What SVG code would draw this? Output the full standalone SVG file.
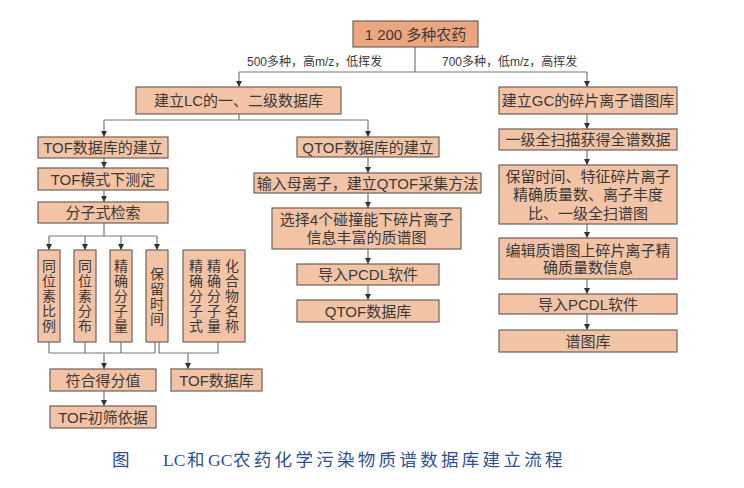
<svg xmlns="http://www.w3.org/2000/svg" width="744" height="488" viewBox="0 0 744 488">
<defs>
<marker id="ah" markerUnits="userSpaceOnUse" markerWidth="7" markerHeight="7" refX="6" refY="3.5" orient="auto">
<path d="M0,0.5 L6,3.5 L0,6.5 z" fill="#333"/>
</marker>
<style>
.b{fill:#f2c3a5;stroke:#6e625a;stroke-width:1.2}
.bt{fill:#eba67f;stroke:#6e625a;stroke-width:1.2}
.t{font-family:"Liberation Sans","Noto Sans CJK SC",sans-serif;font-size:15px;fill:#3a3a3a;text-anchor:middle;dominant-baseline:central}
.v{font-family:"Noto Sans CJK SC",sans-serif;font-size:14px;fill:#3a3a3a;text-anchor:middle;writing-mode:vertical-rl;letter-spacing:1px}
.l{font-family:"Liberation Sans","Noto Sans CJK SC",sans-serif;font-size:12px;fill:#3a3a3a}
.c{fill:none;stroke:#777;stroke-width:1.2}
.a{fill:none;stroke:#777;stroke-width:1.2;marker-end:url(#ah)}
.cap{font-family:"Liberation Serif","Noto Sans CJK SC",serif;font-size:17.5px;fill:#2f5193}
</style>
</defs>
<rect width="744" height="488" fill="#fff"/>

<g id="connectors">
<path class="c" d="M415,47 V72 M239,72 H587"/>
<path class="a" d="M239,72 V87"/>
<path class="a" d="M587,72 V87"/>
<path class="c" d="M239,114 V120 M104,120 H368"/>
<path class="a" d="M104,120 V137"/>
<path class="a" d="M368,120 V137"/>
<path class="a" d="M104,158 V168"/>
<path class="a" d="M104,190 V202"/>
<path class="c" d="M104,223 V236 M49,236 H157"/>
<path class="a" d="M49,236 V250"/>
<path class="a" d="M85,236 V250"/>
<path class="a" d="M121,236 V250"/>
<path class="a" d="M157,236 V250"/>
<path class="c" d="M49,342 V353 M85,342 V353 M121,342 V353 M155,342 V353 M49,353 H155"/>
<path class="c" d="M159,342 V353 H218 V342"/>
<path class="a" d="M104,353 V369"/>
<path class="a" d="M188,353 V369"/>
<path class="a" d="M104,391 V406"/>
<path class="a" d="M368,157 V173"/>
<path class="a" d="M368,193 V208"/>
<path class="a" d="M368,249 V264"/>
<path class="a" d="M368,285 V300"/>
<path class="a" d="M587,114 V129"/>
<path class="a" d="M587,150 V165"/>
<path class="a" d="M587,224 V238"/>
<path class="a" d="M587,279 V294"/>
<path class="a" d="M587,314 V330"/>
</g>

<g id="edge-labels">
<text class="l" x="247" y="66">500多种，高m/z，低挥发</text>
<text class="l" x="442" y="66">700多种，低m/z，高挥发</text>
</g>

<g id="n-root"><rect class="bt" x="353" y="21" width="125" height="26"/><text class="t" x="415.5" y="34">1 200 多种农药</text></g>
<g id="n-lc"><rect class="b" x="136" y="87" width="205" height="27"/><text class="t" x="238.5" y="100.5">建立LC的一、二级数据库</text></g>
<g id="n-gc"><rect class="b" x="499" y="87" width="178" height="27"/><text class="t" x="588" y="100.5">建立GC的碎片离子谱图库</text></g>

<g id="n-tof1"><rect class="b" x="38" y="137" width="130" height="21"/><text class="t" x="103" y="147.5">TOF数据库的建立</text></g>
<g id="n-tof2"><rect class="b" x="38" y="168" width="130" height="22"/><text class="t" x="103" y="179">TOF模式下测定</text></g>
<g id="n-tof3"><rect class="b" x="38" y="202" width="130" height="21"/><text class="t" x="103" y="212.5">分子式检索</text></g>

<g id="n-v1"><rect class="b" x="38" y="250" width="22" height="92"/><text class="v" x="49" y="296.5">同位素比例</text></g>
<g id="n-v2"><rect class="b" x="74" y="250" width="22" height="92"/><text class="v" x="85" y="296.5">同位素分布</text></g>
<g id="n-v3"><rect class="b" x="110" y="250" width="22" height="92"/><text class="v" x="121" y="296.5">精确分子量</text></g>
<g id="n-v4"><rect class="b" x="146" y="250" width="22" height="92"/><text class="v" x="157" y="296.5">保留时间</text></g>
<g id="n-v5"><rect class="b" x="183" y="250" width="62" height="92"/>
<text class="v" x="196" y="296.5">精确分子式</text>
<text class="v" x="214" y="296.5">精确分子量</text>
<text class="v" x="232" y="296.5">化合物名称</text></g>

<g id="n-score"><rect class="b" x="50" y="369" width="106" height="22"/><text class="t" x="103" y="380">符合得分值</text></g>
<g id="n-tofdb"><rect class="b" x="171" y="369" width="91" height="22"/><text class="t" x="216.5" y="380">TOF数据库</text></g>
<g id="n-basis"><rect class="b" x="50" y="406" width="106" height="22"/><text class="t" x="103" y="417">TOF初筛依据</text></g>

<g id="n-q1"><rect class="b" x="297" y="137" width="142" height="20"/><text class="t" x="368" y="147">QTOF数据库的建立</text></g>
<g id="n-q2"><rect class="b" x="254" y="173" width="227" height="20"/><text class="t" x="367.5" y="183">输入母离子，建立QTOF采集方法</text></g>
<g id="n-q3"><rect class="b" x="272" y="208" width="189" height="41"/><text class="t" x="366.5" y="219.5">选择4个碰撞能下碎片离子</text><text class="t" x="366.5" y="237.5">信息丰富的质谱图</text></g>
<g id="n-q4"><rect class="b" x="297" y="264" width="142" height="21"/><text class="t" x="368" y="274.5">导入PCDL软件</text></g>
<g id="n-q5"><rect class="b" x="297" y="300" width="142" height="22"/><text class="t" x="368" y="311">QTOF数据库</text></g>

<g id="n-g1"><rect class="b" x="499" y="129" width="178" height="21"/><text class="t" x="588" y="139.5">一级全扫描获得全谱数据</text></g>
<g id="n-g2"><rect class="b" x="499" y="165" width="178" height="59"/><text class="t" x="588" y="176">保留时间、特征碎片离子</text><text class="t" x="588" y="194.5">精确质量数、离子丰度</text><text class="t" x="588" y="213">比、一级全扫谱图</text></g>
<g id="n-g3"><rect class="b" x="499" y="238" width="178" height="41"/><text class="t" x="588" y="250">编辑质谱图上碎片离子精</text><text class="t" x="588" y="267.5">确质量数信息</text></g>
<g id="n-g4"><rect class="b" x="499" y="294" width="178" height="20"/><text class="t" x="588" y="304">导入PCDL软件</text></g>
<g id="n-g5"><rect class="b" x="499" y="330" width="178" height="22"/><text class="t" x="588" y="341">谱图库</text></g>

<g id="caption">
<text class="cap" x="112" y="466">图</text>
<text class="cap" y="466"><tspan x="163">LC</tspan><tspan x="187">和</tspan><tspan x="208">GC</tspan><tspan x="233" letter-spacing="3.3">农药化学污染物质谱数据库建立流程</tspan></text>
</g>
</svg>
